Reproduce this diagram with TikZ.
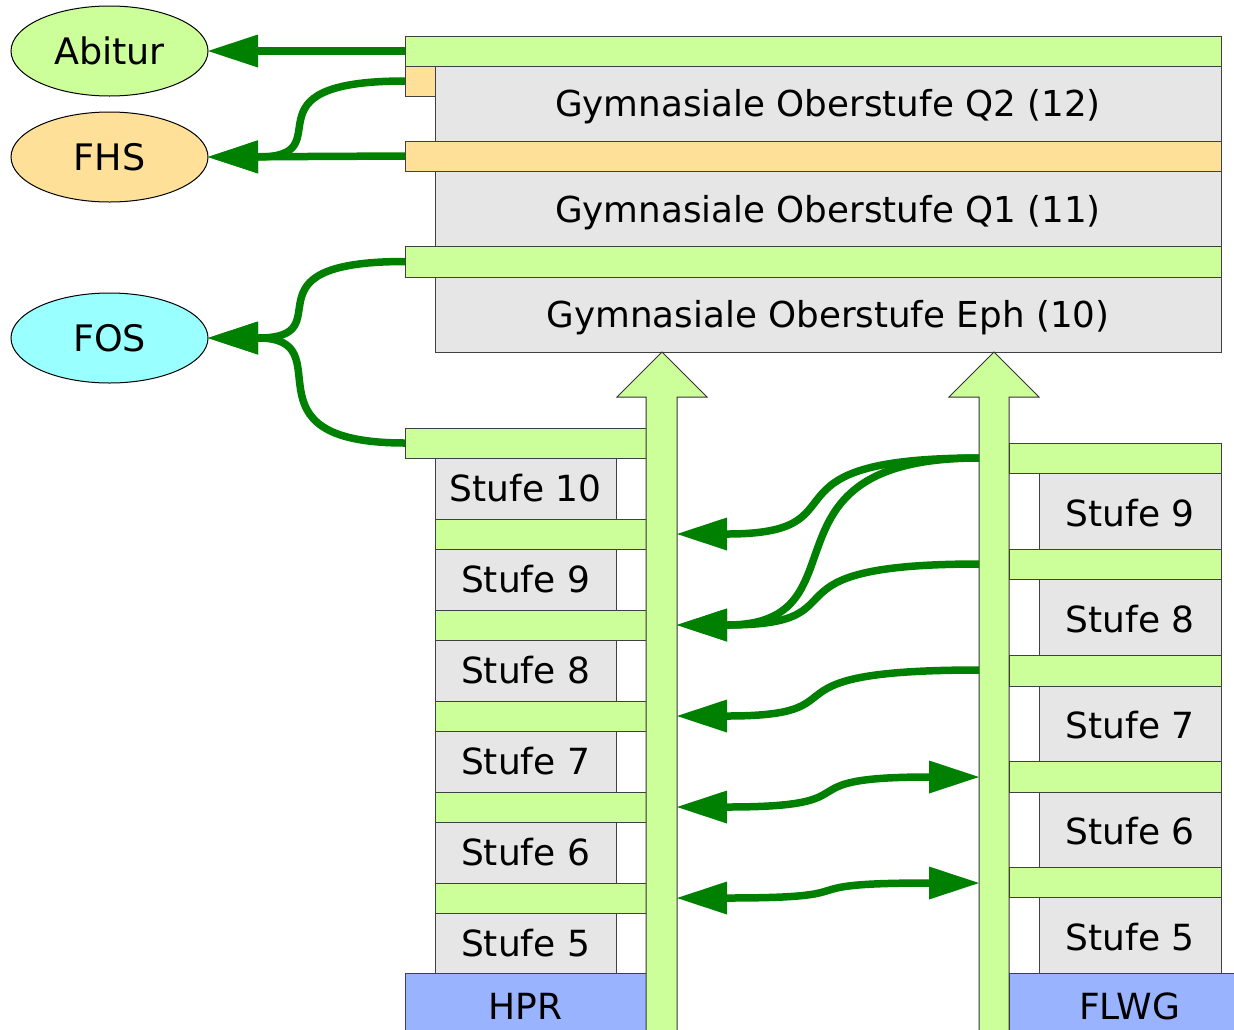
\documentclass[tikz,border=0pt]{standalone}
\usepackage{fontspec}
\setmainfont{DejaVu Sans}
\usetikzlibrary{arrows.meta,shapes.geometric}
\definecolor{lgreen}{HTML}{CCFF99}
\definecolor{lorange}{HTML}{FFE099}
\definecolor{lgray}{HTML}{E6E6E6}
\definecolor{lblue}{HTML}{99B3FF}
\definecolor{lcyan}{HTML}{99FFFF}
\definecolor{dgreen}{HTML}{008000}
\newcommand\bxnode[7]{\node[#2, minimum width={(#5-#3)*1pt}, minimum height={(#6-#4)*1pt}] (#1) at ({(#3+#5)/2},{(#4+#6)/2}) {#7};}
\newcommand\lowered[2]{\raisebox{-#1pt}[\height][\depth]{#2}}
\begin{document}
\begin{tikzpicture}[x=1pt,y=-1pt,
  rbox/.style={draw=black!75, line width=1pt, inner sep=0pt, outer sep=0pt, font=\fontsize{36}{42}\selectfont},
  topbox/.style={rbox, fill=lgray, font=\fontsize{35.7}{42}\selectfont},
  gbar/.style={rbox, fill=lgreen},
  obar/.style={rbox, fill=lorange},
  graybox/.style={rbox, fill=lgray},
  bluebox/.style={rbox, fill=lblue},
  ell/.style={ellipse, draw=black, line width=1pt, minimum width=197pt, minimum height=90pt, inner sep=0pt, outer sep=0pt, font=\fontsize{36.5}{42}\selectfont},
  bigarrow/.style={draw=black!80, line width=1pt, fill=lgreen, line join=miter},
  conn/.style={draw=dgreen, line width=7.5pt},
  tipr/.style={-{Triangle[length=50pt,width=33pt,line width=0pt]}},
  tipb/.style={{Triangle[length=50pt,width=33pt,line width=0pt]}-{Triangle[length=50pt,width=33pt,line width=0pt]}}
]
\useasboundingbox (0,0) rectangle (1234,1029);
\clip (0,0) rectangle (1234,1029);

% ellipses
\node[ell, fill=lgreen] (abitur) at (109.5,51) {Abitur};
\node[ell, fill=lorange] (fhs) at (109.5,157) {FHS};
\node[ell, fill=lcyan] (fos) at (109.5,338) {FOS};

% top block
\bxnode{q2}{topbox}{435}{66}{1221}{141}{\lowered{3}{Gymnasiale Oberstufe Q2 (12)}}
\bxnode{q1}{topbox}{435}{171}{1221}{246}{\lowered{4}{Gymnasiale Oberstufe Q1 (11)}}
\bxnode{eph}{topbox}{435}{277}{1221}{352}{\lowered{3}{Gymnasiale Oberstufe Eph (10)}}
\bxnode{abar}{gbar}{405}{36}{1221}{66}{}
\bxnode{q2sq}{obar}{405}{66}{435}{96}{}
\bxnode{fbar}{obar}{405}{141}{1221}{171}{}
\bxnode{fosbar}{gbar}{405}{246}{1221}{277}{}

% left column (HPR)
\bxnode{lbar0}{gbar}{405}{428}{646}{458}{}
\bxnode{ls10}{graybox}{435}{458}{616}{519}{Stufe 10}
\bxnode{lbar1}{gbar}{435}{519}{646}{549}{}
\bxnode{ls9}{graybox}{435}{549}{616}{610}{Stufe 9}
\bxnode{lbar2}{gbar}{435}{610}{646}{640}{}
\bxnode{ls8}{graybox}{435}{640}{616}{701}{Stufe 8}
\bxnode{lbar3}{gbar}{435}{701}{646}{731}{}
\bxnode{ls7}{graybox}{435}{731}{616}{792}{Stufe 7}
\bxnode{lbar4}{gbar}{435}{792}{646}{822}{}
\bxnode{ls6}{graybox}{435}{822}{616}{883}{Stufe 6}
\bxnode{lbar5}{gbar}{435}{883}{646}{913}{}
\bxnode{ls5}{graybox}{435}{913}{616}{973}{Stufe 5}
\bxnode{hpr}{bluebox}{405}{973}{646}{1040}{HPR}

% right column (FLWG)
\bxnode{rbar0}{gbar}{1009}{443}{1221}{473}{}
\bxnode{rs9}{graybox}{1039}{473}{1221}{549}{\lowered{2}{Stufe 9}}
\bxnode{rbar1}{gbar}{1009}{549}{1221}{579}{}
\bxnode{rs8}{graybox}{1039}{579}{1221}{655}{\lowered{2}{Stufe 8}}
\bxnode{rbar2}{gbar}{1009}{655}{1221}{686}{}
\bxnode{rs7}{graybox}{1039}{686}{1221}{761}{\lowered{2}{Stufe 7}}
\bxnode{rbar3}{gbar}{1009}{761}{1221}{792}{}
\bxnode{rs6}{graybox}{1039}{792}{1221}{867}{\lowered{2}{Stufe 6}}
\bxnode{rbar4}{gbar}{1009}{867}{1221}{897}{}
\bxnode{rs5}{graybox}{1039}{897}{1221}{973}{\lowered{2}{Stufe 5}}
\bxnode{flwg}{bluebox}{1009}{973}{1250}{1040}{FLWG}

% big vertical arrows
\draw[bigarrow] (646,1040) -- (646,397) -- (617,397) -- (662,352) -- (707,397) -- (677,397) -- (677,1040) -- cycle;
\draw[bigarrow] (979,1040) -- (979,397) -- (949,397) -- (994,352) -- (1039,397) -- (1009,397) -- (1009,1040) -- cycle;

% connector anchor points on the shafts
\coordinate (la1) at (677,534);
\coordinate (la2) at (677,625);
\coordinate (la3) at (677,716);
\coordinate (la4) at (677,807);
\coordinate (la5) at (677,898);
\coordinate (ra1) at (979,458);
\coordinate (ra2) at (979,564);
\coordinate (ra3) at (979,670);
\coordinate (ra4) at (979,777);
\coordinate (ra5) at (979,883);

% left connectors
\draw[conn,tipr] (abar.west) -- (abitur.east);
\draw[conn,tipr] (fbar.west) -- (fhs.east);
\draw[conn,tipr] (q2sq.west) .. controls +(-170,0) and +(138,0) .. (fhs.east);
\draw[conn,tipr] (fosbar.west) .. controls +(-170,0) and +(138,0) .. (fos.east);
\draw[conn,tipr] (lbar0.west) .. controls +(-170,0) and +(138,0) .. (fos.east);

% middle connectors
\draw[conn,tipr] (ra1) .. controls +(-232,0) and +(194,0) .. (la1);
\draw[conn,tipr] (ra1) .. controls +(-232,0) and +(194,0) .. (la2);
\draw[conn,tipr] (ra2) .. controls +(-232,0) and +(194,0) .. (la2);
\draw[conn,tipr] (ra3) .. controls +(-232,0) and +(194,0) .. (la3);
\draw[conn,tipb] (la4) .. controls +(203,0) and +(-203,0) .. (ra4);
\draw[conn,tipb] (la5) .. controls +(203,0) and +(-203,0) .. (ra5);
\end{tikzpicture}
\end{document}
